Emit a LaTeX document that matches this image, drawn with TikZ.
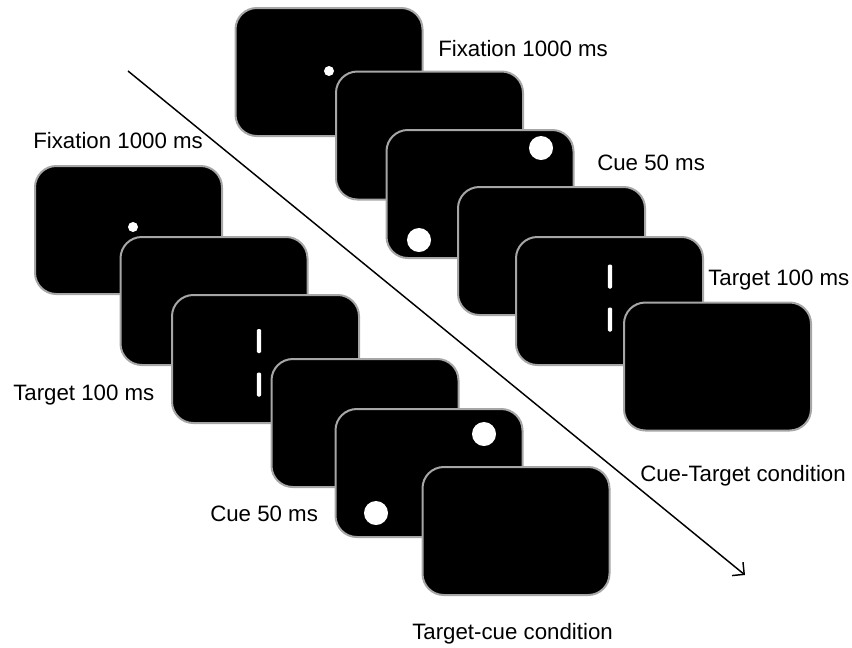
\documentclass[tikz,border=0pt]{standalone}
\usepackage{fontspec}
\setmainfont{Liberation Sans}
\usetikzlibrary{arrows.meta}

\tikzset{
  screen/.style={rectangle, rounded corners=16pt, fill=black, draw=gray!70,
    line width=1.5pt, minimum width=140.25pt, minimum height=96pt, inner sep=0pt},
  fixdot/.style={circle, fill=white, draw=none, minimum size=7.5pt, inner sep=0pt},
  cuedot/.style={circle, fill=white, draw=none, minimum size=18pt, inner sep=0pt},
  bar/.style={rectangle, rounded corners=1pt, fill=white, draw=none,
    minimum width=3.2pt, minimum height=18pt, inner sep=0pt},
  lbl/.style={anchor=base west, inner sep=0pt, font=\fontsize{16.7}{20}\selectfont},
  timeline/.style={line width=1.1pt, -{Straight Barb[length=6.5pt,width=13pt,line width=1.1pt]}}
}

\begin{document}
\begin{tikzpicture}[x=0.75pt, y=-0.75pt]
  \useasboundingbox (0,0) rectangle (852,647);

  % time axis separating the two conditions
  \coordinate (tstart) at (128,71);
  \coordinate (tend) at (745,575);
  \draw[timeline] (tstart) -- (tend);

  % ---- cue-target condition (upper right stack) ----
  \node[screen] (s1) at (329,72) {};
  \node[fixdot] (s1dot) at (329,71) {};
  \node[screen] (s2) at (429.5,135.5) {};
  \node[screen] (s3) at (480,194) {};
  \node[cuedot] (s3cueA) at (541,148) {};
  \node[cuedot] (s3cueB) at (419,240) {};
  \node[screen] (s4) at (551.5,251) {};
  \node[screen] (s5) at (609.5,301) {};
  \node[bar] (s5barA) at (610,276.5) {};
  \node[bar] (s5barB) at (610,319.5) {};
  \node[screen] (s6) at (717.5,366.5) {};

  \node[lbl] (fixR) at (438,56) {Fixation 1000 ms};
  \node[lbl] (cueR) at (597,170) {Cue 50 ms};
  \node[lbl] (tgtR) at (708,285) {Target 100 ms};
  \node[lbl] (condR) at (640,481) {Cue-Target condition};

  % ---- target-cue condition (lower left stack) ----
  \node[screen] (l1) at (128.5,230) {};
  \node[fixdot] (l1dot) at (133,227) {};
  \node[screen] (l2) at (214,301) {};
  \node[screen] (l3) at (265.5,359) {};
  \node[bar] (l3barA) at (259,341) {};
  \node[bar] (l3barB) at (259,384.5) {};
  \node[screen] (l4) at (365,423) {};
  \node[screen] (l5) at (429,473) {};
  \node[cuedot] (l5cueA) at (484,434) {};
  \node[cuedot] (l5cueB) at (376,513) {};
  \node[screen] (l6) at (516,531) {};

  \node[lbl] (fixL) at (33,148) {Fixation 1000 ms};
  \node[lbl] (tgtL) at (13,400) {Target 100 ms};
  \node[lbl] (cueL) at (210,521) {Cue 50 ms};
  \node[lbl] (condL) at (412,639) {Target-cue condition};
\end{tikzpicture}
\end{document}
